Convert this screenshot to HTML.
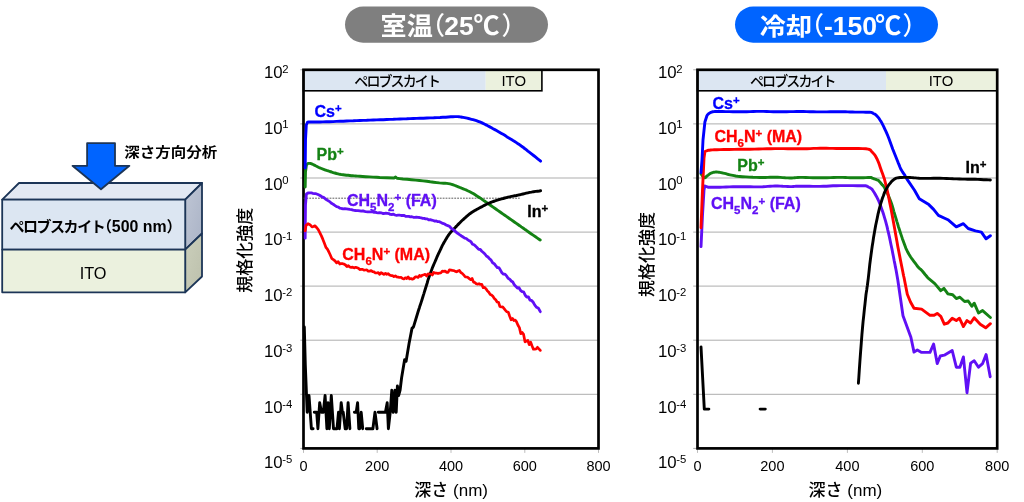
<!DOCTYPE html>
<html lang="ja"><head><meta charset="utf-8"><title>TOF-SIMS depth profile</title>
<style>html,body{margin:0;padding:0;background:#fff;}body{width:1024px;height:502px;overflow:hidden;position:relative;font-family:"Liberation Sans","Noto Sans CJK JP",sans-serif;}</style></head>
<body>
<svg width="1024" height="502" viewBox="0 0 1024 502" font-family="'Liberation Sans','Noto Sans CJK JP',sans-serif" style="position:absolute;left:0;top:0">
<rect width="1024" height="502" fill="#fff"/>
<rect x="345" y="6.5" width="203" height="36.2" rx="18.1" fill="#7f7f7f"/>
<rect x="735" y="6.5" width="203" height="36.2" rx="18.1" fill="#0064ff"/>
<text transform="translate(380.6,35) scale(1.045,1)" fill="#fff" font-weight="bold" font-size="25">室温</text>
<text x="420" y="35" fill="#fff" font-weight="500" font-size="25">（</text>
<text x="444.3" y="35.1" fill="#fff" font-weight="bold" font-size="26.5">25</text>
<text x="473.5" y="35" fill="#fff" font-weight="bold" font-size="26">℃</text>
<text x="501.5" y="35" fill="#fff" font-weight="500" font-size="25">）</text>
<text transform="translate(759.8,34.6) scale(1.045,0.94)" fill="#fff" font-weight="bold" font-size="25">冷却</text>
<text x="799" y="35" fill="#fff" font-weight="500" font-size="25">（</text>
<text x="824" y="35.1" fill="#fff" font-weight="bold" font-size="26.5">-150</text>
<text x="875.3" y="35" fill="#fff" font-weight="bold" font-size="26">℃</text>
<text x="902.5" y="35" fill="#fff" font-weight="500" font-size="25">）</text>
<g stroke="#1c3557" stroke-width="1.8" stroke-linejoin="round">
<defs><linearGradient id="g1" x1="0" y1="0" x2="1" y2="1"><stop offset="0" stop-color="#bfc6d5"/><stop offset="1" stop-color="#aab3c6"/></linearGradient><linearGradient id="g2" x1="0" y1="0" x2="1" y2="1"><stop offset="0" stop-color="#cbcfbb"/><stop offset="1" stop-color="#bcc0ac"/></linearGradient></defs>
<polygon points="2.2,199.6 19,183 202,183 185.2,199.6" fill="#e3e9f3"/>
<polygon points="185.2,199.6 202,183 202,233.5 185.2,249.6" fill="url(#g1)"/>
<polygon points="185.2,249.6 202,233.5 202,276.5 185.2,292.3" fill="url(#g2)"/>
<rect x="2.2" y="199.6" width="183" height="50" fill="#dce6f2"/>
<rect x="2.2" y="249.6" width="183" height="42.7" fill="#ebf1de"/>
<polygon points="87.1,143.2 115,143.2 115,165.8 129.4,165.8 101,189.2 72.5,165.8 87.1,165.8" fill="#0064ff"/>
</g>
<text transform="translate(124.2,156.8) scale(1,0.9)" font-size="15.5" font-weight="bold" fill="#000">深さ方向分析</text>
<text x="9.4" y="232" font-size="15" font-weight="bold" fill="#000" letter-spacing="-1.45">ペロブスカイト</text>
<text x="97" y="232" font-size="15" font-weight="bold" fill="#000">（</text>
<text x="111.8" y="232" font-size="15.9" font-weight="bold" fill="#000">500 nm</text>
<text x="166.5" y="232" font-size="15" font-weight="bold" fill="#000">）</text>
<text x="93.05" y="278.9" font-size="16.3" text-anchor="middle" fill="#000">ITO</text>
<line x1="300.3" y1="69.8" x2="598.5" y2="69.8" stroke="#adadad" stroke-width="1"/><line x1="300.3" y1="123.9" x2="598.5" y2="123.9" stroke="#adadad" stroke-width="1"/><line x1="300.3" y1="178.0" x2="598.5" y2="178.0" stroke="#adadad" stroke-width="1"/><line x1="300.3" y1="232.1" x2="598.5" y2="232.1" stroke="#adadad" stroke-width="1"/><line x1="300.3" y1="286.1" x2="598.5" y2="286.1" stroke="#adadad" stroke-width="1"/><line x1="300.3" y1="340.2" x2="598.5" y2="340.2" stroke="#adadad" stroke-width="1"/><line x1="300.3" y1="394.3" x2="598.5" y2="394.3" stroke="#adadad" stroke-width="1"/><line x1="300.3" y1="448.4" x2="598.5" y2="448.4" stroke="#adadad" stroke-width="1"/><line x1="303.5" y1="448.4" x2="303.5" y2="452.9" stroke="#bdbdbd" stroke-width="1"/><line x1="377.2" y1="448.4" x2="377.2" y2="452.9" stroke="#bdbdbd" stroke-width="1"/><line x1="451.0" y1="448.4" x2="451.0" y2="452.9" stroke="#bdbdbd" stroke-width="1"/><line x1="524.8" y1="448.4" x2="524.8" y2="452.9" stroke="#bdbdbd" stroke-width="1"/><line x1="598.5" y1="448.4" x2="598.5" y2="452.9" stroke="#bdbdbd" stroke-width="1"/><rect x="303.5" y="70" width="182.2" height="20.8" fill="#dce6f2"/><rect x="485.7" y="70" width="56.2" height="20.8" fill="#ebf1de"/><rect x="303.5" y="70" width="238.4" height="20.8" fill="none" stroke="#000" stroke-width="1.6"/><text x="354.3" y="86.4" font-size="14" font-weight="500" fill="#000" letter-spacing="-1.9">ペロブスカイト</text><text x="513.7" y="85.9" font-size="14.9" fill="#000" text-anchor="middle">ITO</text>
<rect x="303.5" y="69.8" width="295.0" height="378.6" fill="none" stroke="#000" stroke-width="2.7"/>
<line x1="303.5" y1="198.2" x2="519.7" y2="198.2" stroke="#4a4a4a" stroke-width="0.9" stroke-dasharray="1.8,1.1"/>
<polyline points="305.2,187.0 305.5,172.0 306.4,165.0 308.0,163.5 308.5,163.4 309.0,163.4 309.6,163.4 310.3,163.5 311.1,163.7 312.0,164.0 313.1,164.5 314.3,165.1 315.6,165.8 317.0,166.5 318.4,167.2 319.9,167.9 321.4,168.5 323.1,169.2 324.8,169.8 326.5,170.4 328.2,170.9 329.9,171.5 331.6,172.0 333.2,172.6 334.8,173.0 336.5,173.5 338.1,173.9 339.8,174.3 341.5,174.6 343.1,174.8 344.8,175.0 346.5,175.2 348.1,175.3 349.8,175.5 351.4,175.7 352.8,175.8 354.2,175.9 355.7,176.0 357.6,176.1 359.8,176.3 362.6,176.5 365.9,176.7 369.5,176.9 373.1,177.1 376.6,177.3 379.7,177.5 394.0,178.0 395.6,177.0 397.0,178.3 399.6,178.6 403.0,179.0 407.1,179.3 411.4,179.7 415.7,180.1 419.5,180.5 423.1,180.9 426.7,181.3 430.2,181.8 433.6,182.2 436.7,182.6 439.4,182.9 441.7,183.1 443.6,183.2 445.3,183.3 446.9,183.4 448.4,183.6 450.0,183.9 451.7,184.3 453.3,184.9 455.0,185.5 456.6,186.2 458.3,186.8 459.9,187.5 461.6,188.2 463.2,188.8 464.9,189.5 466.6,190.2 468.2,191.0 469.9,191.8 471.6,192.7 473.2,193.6 474.8,194.6 476.5,195.7 478.1,196.7 479.8,197.8 481.5,198.9 483.1,200.1 484.8,201.2 486.5,202.4 488.1,203.6 489.8,204.8 491.5,206.0 493.1,207.1 494.8,208.3 496.5,209.5 498.1,210.6 499.8,211.8 501.5,213.0 503.1,214.1 504.8,215.3 506.4,216.4 508.0,217.5 509.7,218.7 511.4,219.9 513.0,221.0 514.7,222.2 516.4,223.4 518.0,224.5 519.7,225.7 521.3,226.9 523.0,228.0 524.6,229.2 526.3,230.3 527.9,231.5 529.6,232.7 531.4,234.0 533.5,235.4 535.5,236.8 537.4,238.1 539.0,239.2 540.2,240.0" fill="none" stroke="#148214" stroke-width="2.9" stroke-linejoin="round" stroke-linecap="round"/>
<polyline points="304.3,327.0 305.3,365.0 307.2,412.3 309.0,395.5 311.4,428.7 313.1,428.7" fill="none" stroke="#000" stroke-width="2.9" stroke-linejoin="round" stroke-linecap="round"/>
<polyline points="314.3,412.3 316.7,412.3 317.9,428.7 319.7,402.7 321.5,412.3 323.3,412.3 325.1,395.5 326.9,428.7 328.1,402.7 329.3,428.7 331.3,395.5 333.5,428.7 337.0,428.7 338.5,412.3 339.4,428.7 341.2,402.7 342.4,412.3 343.2,412.3 345.2,428.7 346.6,428.7 348.1,402.7 349.9,428.7" fill="none" stroke="#000" stroke-width="2.9" stroke-linejoin="round" stroke-linecap="round"/>
<polyline points="354.4,412.3 356.2,412.3 357.6,402.7 358.8,428.7 359.7,428.7 361.2,412.3 362.7,428.7" fill="none" stroke="#000" stroke-width="2.9" stroke-linejoin="round" stroke-linecap="round"/>
<polyline points="366.3,428.7 372.9,428.7 375.0,412.3 377.1,428.7" fill="none" stroke="#000" stroke-width="2.9" stroke-linejoin="round" stroke-linecap="round"/>
<polyline points="378.3,412.3 385.4,412.3 387.2,402.7 388.4,428.7 390.2,412.3 391.8,390.2 393.2,412.3 395.0,390.2 396.2,412.3 397.4,386.0 398.6,395.5 400.1,390.0 401.6,377.7 404.6,359.8 406.1,361.2 409.1,343.3 412.0,328.4 413.5,326.9 418.0,312.0 418.7,309.8 419.4,307.7 420.0,305.7 420.7,303.7 421.3,301.9 421.9,300.0 422.4,298.3 422.9,296.7 423.4,295.1 423.9,293.6 424.4,291.9 425.0,290.0 425.7,287.8 426.4,285.5 427.2,283.0 427.9,280.4 428.7,278.0 429.5,275.7 430.2,273.6 431.0,271.6 431.7,269.7 432.4,267.8 433.2,265.9 434.0,264.0 434.9,262.0 435.8,259.9 436.7,257.7 437.6,255.7 438.5,253.7 439.4,251.8 440.2,250.1 441.0,248.5 441.7,246.9 442.4,245.4 443.2,244.0 444.0,242.5 444.9,241.0 445.8,239.4 446.7,237.9 447.6,236.5 448.5,235.1 449.4,233.9 450.2,232.9 450.9,232.0 451.6,231.3 452.3,230.6 453.1,229.9 453.9,229.0 454.8,228.1 455.6,227.1 456.6,226.1 457.5,225.1 458.7,223.9 459.9,222.7 461.3,221.3 462.9,219.8 464.7,218.2 466.4,216.6 468.2,215.1 469.9,213.7 471.6,212.5 473.2,211.5 474.8,210.5 476.5,209.6 478.1,208.7 479.8,207.8 481.5,206.9 483.1,206.0 484.8,205.1 486.5,204.3 488.1,203.5 489.8,202.8 491.5,202.1 493.1,201.5 494.8,201.0 496.5,200.4 498.1,199.9 499.8,199.4 501.5,198.9 503.1,198.5 504.8,198.0 506.4,197.6 508.0,197.2 509.7,196.8 511.4,196.4 513.0,196.1 514.7,195.8 516.4,195.5 518.0,195.1 519.7,194.8 521.3,194.4 523.0,194.0 524.6,193.6 526.2,193.2 527.9,192.8 529.6,192.4 531.5,192.1 533.6,191.7 535.7,191.4 537.7,191.2 539.4,191.0 540.6,190.8" fill="none" stroke="#000" stroke-width="2.9" stroke-linejoin="round" stroke-linecap="round"/>
<polyline points="305.2,238.2 305.5,205.2 306.4,194.0 308.0,193.0 309.6,192.8 311.2,192.8 312.8,193.4 314.4,193.7 316.0,193.7 318.0,194.5 320.0,195.5 321.9,196.7 323.9,197.6 325.5,199.0 327.1,200.1 328.7,201.0 330.3,202.2 331.9,203.6 333.5,204.4 335.1,205.6 336.6,206.6 338.2,207.0 339.8,208.1 341.5,208.5 343.1,208.8 344.8,208.6 346.5,208.8 348.1,209.1 349.8,209.4 351.5,209.6 353.1,210.1 354.8,210.5 356.5,210.7 358.1,210.6 359.8,210.9 361.3,211.2 362.9,210.8 364.4,211.4 365.9,211.7 367.5,211.8 369.0,211.9 370.5,211.8 372.0,211.7 373.6,212.3 375.1,212.1 376.6,212.6 378.2,212.9 379.7,212.6 381.2,212.8 382.8,213.5 384.3,213.5 385.8,213.2 387.4,213.4 388.9,213.6 390.4,214.4 391.9,214.5 393.5,214.2 395.0,215.0 396.5,215.3 398.1,215.2 399.6,215.2 401.1,215.5 402.7,215.4 404.2,215.5 405.7,216.4 407.3,216.3 408.8,216.4 410.3,216.9 411.8,216.7 413.4,217.3 414.9,217.4 416.4,217.1 418.0,217.3 419.5,217.5 421.0,217.8 422.6,218.4 424.1,218.4 425.6,218.9 427.2,218.9 428.7,219.9 430.2,219.7 431.7,220.1 433.3,220.5 434.8,221.1 436.3,221.0 437.9,221.7 439.4,221.7 441.1,222.6 442.7,223.4 444.4,223.8 446.1,225.0 447.7,225.6 449.4,226.3 451.4,228.5 453.3,229.6 455.3,231.4 456.8,232.8 458.4,233.8 459.9,234.9 461.5,236.0 463.1,237.0 464.7,238.1 466.3,238.5 467.9,239.8 469.4,240.8 471.0,241.7 472.5,244.2 474.1,244.8 475.6,246.1 477.2,247.8 478.7,249.4 480.3,249.5 481.8,251.2 483.3,252.5 484.9,254.0 486.4,256.0 488.0,257.0 489.5,258.7 491.1,260.1 492.6,262.8 494.2,263.7 495.7,265.7 497.3,267.6 498.8,267.6 500.4,270.1 501.9,272.7 503.5,274.2 505.0,274.2 506.6,275.9 508.1,278.3 509.7,279.2 511.2,281.0 512.8,282.0 514.3,284.8 515.9,286.4 517.4,288.1 519.0,287.7 520.5,290.4 522.1,291.7 523.6,291.8 525.2,295.2 526.8,297.0 528.4,296.8 530.0,300.2 531.6,300.5 533.2,302.3 534.8,305.1 536.6,307.3 538.5,308.3 540.3,311.7" fill="none" stroke="#6010f5" stroke-width="2.8" stroke-linejoin="round" stroke-linecap="round"/>
<polyline points="305.2,230.8 306.0,225.6 308.0,223.7 310.0,224.7 312.0,226.9 313.4,226.4 314.9,225.8 317.0,228.0 318.4,229.9 319.9,232.8 321.4,235.9 322.9,239.4 324.4,243.3 325.9,247.3 327.4,249.2 328.9,252.0 330.4,255.3 331.9,258.7 333.4,259.6 335.0,260.8 336.6,262.8 338.2,261.7 339.8,264.1 341.2,263.5 342.7,263.7 344.1,264.1 345.5,265.0 346.9,266.5 348.4,265.7 349.8,267.0 351.2,267.4 352.7,267.2 354.1,267.9 355.5,267.3 356.9,267.6 358.4,268.3 359.8,269.6 361.2,269.3 362.6,269.3 364.0,270.1 365.5,270.0 366.9,269.9 368.3,271.2 369.7,271.2 371.1,270.6 372.6,271.7 374.0,271.9 375.4,273.0 376.8,273.0 378.3,272.5 379.7,274.3 381.1,272.7 382.5,273.5 383.9,274.4 385.4,273.4 386.8,274.3 388.2,273.6 389.6,275.0 391.0,275.6 392.5,275.6 393.9,276.6 395.3,275.8 396.7,276.9 398.2,277.1 399.6,277.5 401.0,277.3 402.5,278.5 403.9,279.0 405.3,277.8 406.7,278.5 408.2,276.9 409.6,278.9 411.0,278.5 412.4,279.2 413.8,278.5 415.3,276.8 416.7,276.8 418.1,277.4 419.5,275.4 420.9,276.3 422.4,275.2 423.8,274.8 425.2,274.3 426.6,276.0 428.1,273.9 429.5,274.0 430.9,274.0 432.3,275.0 433.7,272.5 435.2,273.1 436.6,273.1 438.0,273.6 439.4,273.1 440.8,273.0 442.3,271.2 443.7,271.4 445.1,271.0 446.5,272.3 448.0,272.3 449.4,269.8 450.9,270.1 452.4,270.4 453.9,270.6 455.3,271.4 456.6,271.8 458.0,271.0 459.4,270.4 460.8,272.5 462.2,273.3 463.6,274.8 465.1,276.8 466.5,277.0 467.9,277.4 469.3,278.6 470.7,279.7 472.1,278.4 473.5,282.1 474.9,282.5 476.2,283.7 477.6,284.2 479.0,283.7 480.4,284.5 481.8,284.4 483.2,287.7 484.6,287.3 486.0,288.8 487.4,290.9 488.8,292.3 490.1,294.4 491.5,295.0 492.9,296.3 494.3,298.4 495.7,299.7 497.1,302.0 498.5,302.3 499.9,306.5 501.3,307.0 502.7,306.9 504.1,308.6 505.5,310.3 506.9,311.8 508.3,312.3 509.7,316.2 511.1,319.8 512.5,318.5 513.9,320.5 515.2,320.0 516.6,321.9 518.0,325.3 519.4,327.6 520.8,333.7 522.2,332.5 523.6,334.4 525.0,341.8 526.4,341.0 527.8,340.4 529.2,344.6 530.6,342.1 532.0,345.8 533.4,349.2 534.8,349.2 536.2,349.0 537.5,347.3 538.9,348.8 540.3,350.4" fill="none" stroke="#ff0000" stroke-width="2.7" stroke-linejoin="round" stroke-linecap="round"/>
<polyline points="305.2,168.0 305.5,140.0 306.3,125.0 307.5,122.2 308.8,122.0 310.6,122.0 312.6,122.0 314.9,122.0 317.4,122.0 320.0,122.0 322.9,121.9 326.1,121.8 329.5,121.7 333.1,121.6 336.6,121.4 340.0,121.3 343.3,121.2 346.7,121.0 350.0,120.9 353.3,120.8 356.7,120.6 360.0,120.5 363.3,120.4 366.7,120.3 370.0,120.1 373.3,120.0 376.7,119.9 380.0,119.8 383.3,119.7 386.7,119.5 390.0,119.4 393.3,119.3 396.7,119.1 400.0,119.0 403.3,118.9 406.7,118.8 410.0,118.6 413.3,118.5 416.7,118.4 420.0,118.3 423.4,118.2 426.9,118.0 430.3,117.9 433.7,117.8 437.0,117.6 440.0,117.5 442.9,117.3 445.7,117.2 448.3,117.0 450.8,116.8 453.0,116.7 455.0,116.6 456.6,116.6 457.9,116.6 458.9,116.7 459.9,116.9 460.9,117.0 462.0,117.2 463.2,117.4 464.5,117.6 465.8,117.9 467.1,118.2 468.5,118.5 469.9,118.9 471.4,119.3 473.0,119.7 474.7,120.2 476.4,120.7 478.1,121.3 479.8,121.9 481.5,122.6 483.1,123.4 484.8,124.2 486.5,125.1 488.1,126.0 489.8,126.9 491.5,127.8 493.1,128.7 494.8,129.6 496.5,130.5 498.1,131.4 499.8,132.4 501.5,133.4 503.1,134.3 504.8,135.3 506.4,136.4 508.0,137.4 509.7,138.4 511.4,139.4 513.0,140.5 514.7,141.5 516.4,142.6 518.0,143.7 519.7,144.8 521.3,146.0 523.0,147.2 524.6,148.5 526.2,149.7 527.9,151.1 529.6,152.4 531.5,153.9 533.6,155.5 535.7,157.2 537.7,158.8 539.4,160.1 540.6,161.1" fill="none" stroke="#0000ff" stroke-width="2.9" stroke-linejoin="round" stroke-linecap="round"/>
<text x="264.0" y="78" font-size="16.8" fill="#000">10<tspan dy="-5.3" dx="-0.5" font-size="11.3">2</tspan></text><text x="264.0" y="133.7" font-size="16.8" fill="#000">10<tspan dy="-5.3" dx="-0.5" font-size="11.3">1</tspan></text><text x="264.0" y="189.7" font-size="16.8" fill="#000">10<tspan dy="-5.3" dx="-0.5" font-size="11.3">0</tspan></text><text x="264.0" y="245.4" font-size="16.8" fill="#000">10<tspan dy="-5.3" dx="-0.5" font-size="11.3">-1</tspan></text><text x="264.0" y="301.4" font-size="16.8" fill="#000">10<tspan dy="-5.3" dx="-0.5" font-size="11.3">-2</tspan></text><text x="264.0" y="356.9" font-size="16.8" fill="#000">10<tspan dy="-5.3" dx="-0.5" font-size="11.3">-3</tspan></text><text x="264.0" y="412.9" font-size="16.8" fill="#000">10<tspan dy="-5.3" dx="-0.5" font-size="11.3">-4</tspan></text><text x="264.0" y="467.8" font-size="16.8" fill="#000">10<tspan dy="-5.3" dx="-0.5" font-size="11.3">-5</tspan></text>
<text x="303.5" y="470.8" font-size="14.5" fill="#000" text-anchor="middle">0</text><text x="377.2" y="470.8" font-size="14.5" fill="#000" text-anchor="middle">200</text><text x="451.0" y="470.8" font-size="14.5" fill="#000" text-anchor="middle">400</text><text x="524.8" y="470.8" font-size="14.5" fill="#000" text-anchor="middle">600</text><text x="598.5" y="470.8" font-size="14.5" fill="#000" text-anchor="middle">800</text>
<text x="451.2" y="495.5" font-size="17" fill="#000" text-anchor="middle"><tspan font-weight="500">深さ</tspan> (nm)</text>
<text transform="translate(250.8,250.3) rotate(-90)" font-size="17" font-weight="500" fill="#000" text-anchor="middle">規格化強度</text>
<text x="314.5" y="116.9" fill="#0000ff" stroke="#0000ff" stroke-width="0.3" font-size="16" font-weight="bold"><tspan>Cs</tspan><tspan dy="-4.9" font-size="11.5">+</tspan></text>
<text x="316.5" y="160.1" fill="#148214" stroke="#148214" stroke-width="0.3" font-size="16" font-weight="bold"><tspan>Pb</tspan><tspan dy="-4.9" font-size="11.5">+</tspan></text>
<text x="347" y="205.9" fill="#6010f5" stroke="#6010f5" stroke-width="0.3" font-size="16" font-weight="bold"><tspan>CH</tspan><tspan dy="4.7" font-size="11.5">5</tspan><tspan dy="-4.7" font-size="16">N</tspan><tspan dy="4.7" font-size="11.5">2</tspan><tspan dy="-9.6" font-size="11.5">+</tspan><tspan dy="4.9" font-size="16"> (FA)</tspan></text>
<text x="342.3" y="259.8" fill="#ff0000" stroke="#ff0000" stroke-width="0.3" font-size="16" font-weight="bold"><tspan>CH</tspan><tspan dy="4.7" font-size="11.5">6</tspan><tspan dy="-4.7" font-size="16">N</tspan><tspan dy="-4.9" font-size="11.5">+</tspan><tspan dy="4.9" font-size="16"> (MA)</tspan></text>
<text x="527.2" y="216.7" fill="#000" stroke="#000" stroke-width="0.3" font-size="16" font-weight="bold"><tspan>In</tspan><tspan dy="-4.9" font-size="11.5">+</tspan></text>
<line x1="693.2" y1="69.8" x2="997.2" y2="69.8" stroke="#adadad" stroke-width="1"/><line x1="693.2" y1="123.9" x2="997.2" y2="123.9" stroke="#adadad" stroke-width="1"/><line x1="693.2" y1="178.0" x2="997.2" y2="178.0" stroke="#adadad" stroke-width="1"/><line x1="693.2" y1="232.1" x2="997.2" y2="232.1" stroke="#adadad" stroke-width="1"/><line x1="693.2" y1="286.1" x2="997.2" y2="286.1" stroke="#adadad" stroke-width="1"/><line x1="693.2" y1="340.2" x2="997.2" y2="340.2" stroke="#adadad" stroke-width="1"/><line x1="693.2" y1="394.3" x2="997.2" y2="394.3" stroke="#adadad" stroke-width="1"/><line x1="693.2" y1="448.4" x2="997.2" y2="448.4" stroke="#adadad" stroke-width="1"/><line x1="697.5" y1="448.4" x2="697.5" y2="452.9" stroke="#bdbdbd" stroke-width="1"/><line x1="772.4" y1="448.4" x2="772.4" y2="452.9" stroke="#bdbdbd" stroke-width="1"/><line x1="847.4" y1="448.4" x2="847.4" y2="452.9" stroke="#bdbdbd" stroke-width="1"/><line x1="922.3" y1="448.4" x2="922.3" y2="452.9" stroke="#bdbdbd" stroke-width="1"/><line x1="997.2" y1="448.4" x2="997.2" y2="452.9" stroke="#bdbdbd" stroke-width="1"/><rect x="697.5" y="70" width="188.5" height="20.8" fill="#dce6f2"/><rect x="886" y="70" width="111.0" height="20.8" fill="#ebf1de"/><rect x="697.5" y="70" width="299.5" height="20.8" fill="none" stroke="#000" stroke-width="1.6"/><text x="750" y="86.4" font-size="14" font-weight="500" fill="#000" letter-spacing="-1.9">ペロブスカイト</text><text x="941" y="85.9" font-size="14.9" fill="#000" text-anchor="middle">ITO</text>
<rect x="697.5" y="69.8" width="299.7" height="378.6" fill="none" stroke="#000" stroke-width="2.7"/>
<polyline points="701.0,246.6 702.5,215.0 704.0,190.0 704.9,186.0 708.0,187.2 709.4,187.3 711.0,187.3 712.9,187.3 715.1,187.3 717.4,187.2 720.0,187.2 722.9,187.1 726.1,187.0 729.5,186.9 733.0,186.8 736.6,186.7 740.0,186.7 743.4,186.7 746.9,186.8 750.3,186.8 753.7,186.9 757.0,186.9 760.0,186.9 762.8,186.8 765.4,186.6 767.8,186.4 770.2,186.2 772.6,186.1 775.0,186.0 777.6,186.0 780.2,186.1 782.8,186.3 785.4,186.4 787.8,186.5 790.0,186.6 791.8,186.6 793.3,186.5 794.7,186.4 796.1,186.3 797.8,186.2 800.0,186.2 802.8,186.2 805.9,186.3 809.4,186.3 813.0,186.4 816.6,186.4 820.0,186.4 823.3,186.3 826.5,186.2 829.8,186.0 833.0,185.8 836.4,185.7 840.0,185.6 844.0,185.6 848.5,185.6 853.0,185.6 857.4,185.7 861.1,185.7 863.9,185.8 865.6,185.8 866.4,185.9 866.6,185.9 866.5,186.0 866.5,186.1 866.7,186.2 867.2,186.4 867.8,186.6 868.3,186.9 868.8,187.2 869.4,187.5 869.9,187.8 870.4,188.1 870.7,188.3 871.1,188.5 871.5,188.8 872.1,189.4 872.7,190.3 873.5,191.5 874.5,193.0 875.5,194.8 876.6,196.7 877.7,198.8 878.7,201.0 879.7,203.4 880.7,206.1 881.7,208.9 882.7,211.8 883.7,214.8 884.6,217.8 885.5,220.8 886.3,223.8 887.1,226.9 887.8,230.1 888.6,233.4 889.4,236.9 890.2,240.7 891.0,244.7 891.9,248.8 892.7,253.0 893.5,257.0 894.2,260.8 894.9,264.1 895.4,266.9 896.0,269.7 896.5,272.5 897.1,275.9 897.8,280.0 903.0,315.8 910.9,337.3 914.0,352.1 917.3,350.0 921.6,352.4 930.0,352.4 933.6,344.0 937.2,363.6 940.3,356.0 944.3,355.2 952.2,350.5 956.3,367.2 959.9,367.2 963.4,356.9 967.0,392.7 970.6,363.1 974.2,360.7 978.5,367.2 982.6,363.6 986.1,354.5 990.2,376.7" fill="none" stroke="#6010f5" stroke-width="2.9" stroke-linejoin="round" stroke-linecap="round"/>
<polyline points="701.0,173.9 703.0,176.5 703.3,176.8 703.6,177.1 703.9,177.4 704.3,177.6 704.6,177.8 704.9,177.8 705.2,177.7 705.5,177.5 705.8,177.2 706.2,176.8 706.5,176.4 707.0,176.0 707.5,175.6 708.2,175.1 708.8,174.6 709.5,174.1 710.3,173.6 711.0,173.2 711.8,172.9 712.5,172.6 713.3,172.4 714.1,172.2 715.0,172.1 715.9,172.0 716.8,172.0 717.8,172.1 718.8,172.2 719.8,172.4 720.9,172.6 722.0,172.8 723.2,173.1 724.5,173.4 725.8,173.7 727.1,174.1 728.5,174.5 730.0,174.8 731.4,175.1 732.8,175.4 734.2,175.7 735.7,176.0 737.6,176.3 739.8,176.5 742.6,176.7 745.9,176.9 749.4,177.1 753.0,177.3 756.5,177.4 759.7,177.5 762.5,177.5 765.2,177.5 767.7,177.4 770.1,177.3 772.5,177.2 775.0,177.2 777.6,177.3 780.2,177.4 782.8,177.6 785.4,177.8 787.8,177.9 790.0,178.0 791.8,178.0 793.3,177.9 794.7,177.7 796.1,177.6 797.8,177.5 800.0,177.4 802.8,177.4 805.9,177.5 809.4,177.6 813.0,177.7 816.6,177.8 820.0,177.8 823.4,177.8 826.9,177.7 830.3,177.6 833.7,177.5 837.0,177.4 840.0,177.4 842.8,177.4 845.4,177.5 847.8,177.6 850.2,177.7 852.6,177.8 855.0,177.8 857.6,177.8 860.5,177.7 863.3,177.7 865.9,177.6 868.2,177.5 869.9,177.5 870.9,177.5 871.3,177.5 871.3,177.6 871.2,177.6 871.2,177.7 871.5,177.9 872.2,178.1 873.2,178.5 874.2,178.8 875.2,179.2 876.2,179.5 876.9,179.8 877.4,180.0 877.7,180.1 877.9,180.1 878.1,180.2 878.4,180.4 878.7,180.7 879.1,181.1 879.6,181.7 880.2,182.3 880.7,183.0 881.3,183.7 881.8,184.3 882.2,184.8 882.6,185.1 883.0,185.5 883.4,186.0 884.0,186.8 884.6,187.9 885.4,189.5 886.4,191.5 887.5,193.7 888.6,196.1 889.6,198.6 890.6,201.0 891.5,203.5 892.3,206.0 893.1,208.7 893.8,211.3 894.6,214.0 895.4,216.6 896.2,219.1 896.9,221.6 897.7,224.1 898.4,226.7 899.3,229.3 900.2,232.1 901.2,235.1 902.3,238.4 903.5,241.7 904.7,245.1 905.9,248.3 907.3,251.2 908.8,254.0 910.5,256.7 912.2,259.2 914.0,261.6 915.6,263.7 916.9,265.5 917.9,266.8 918.7,267.7 919.4,268.3 920.0,268.8 920.7,269.4 921.6,270.3 922.7,271.5 923.9,273.0 925.1,274.5 926.4,276.0 927.6,277.5 928.8,278.7 934.8,283.6 940.8,290.7 943.9,288.4 947.9,293.9 952.7,294.8 956.3,298.6 959.9,297.2 964.6,301.5 968.2,301.0 971.8,306.3 974.2,303.2 978.5,313.0 982.6,310.6 990.4,317.5" fill="none" stroke="#148214" stroke-width="2.9" stroke-linejoin="round" stroke-linecap="round"/>
<polyline points="701.0,227.7 702.5,190.0 704.0,158.0 704.9,151.5 708.0,150.3 709.3,150.2 710.7,150.0 712.3,149.9 714.3,149.8 716.9,149.7 720.0,149.6 724.0,149.5 728.9,149.5 734.2,149.4 739.7,149.3 745.1,149.3 750.0,149.2 754.5,149.1 758.7,149.0 762.8,148.9 766.9,148.7 770.9,148.7 775.0,148.6 779.2,148.6 783.5,148.6 787.8,148.7 792.0,148.8 796.1,148.8 800.0,148.8 803.6,148.7 807.0,148.7 810.3,148.6 813.5,148.4 816.7,148.4 820.0,148.3 823.3,148.3 826.4,148.3 829.6,148.4 832.9,148.4 836.3,148.5 840.0,148.5 844.2,148.5 848.9,148.5 853.8,148.5 858.5,148.5 862.7,148.6 865.9,148.8 868.1,149.1 869.4,149.5 870.2,149.9 870.7,150.4 871.2,151.0 871.9,151.8 872.8,152.7 873.6,153.6 874.5,154.6 875.3,155.8 876.1,157.2 876.9,158.7 877.7,160.5 878.6,162.6 879.4,164.8 880.2,167.2 881.0,169.5 881.8,171.7 882.5,173.6 883.1,175.3 883.7,177.0 884.4,178.9 885.0,181.3 885.8,184.3 886.7,188.1 887.7,192.5 888.7,197.3 889.7,202.5 890.8,207.8 891.8,213.0 892.8,218.4 893.8,224.1 894.9,230.0 895.9,235.8 896.9,241.3 897.8,246.4 898.7,251.1 899.6,255.6 900.4,259.8 901.2,263.7 901.9,267.2 902.5,270.3 903.0,272.7 903.3,274.4 903.6,275.8 903.9,277.0 904.2,278.3 904.5,280.0 907.3,294.3 910.5,302.0 914.0,308.2 921.6,309.1 930.0,315.3 934.1,315.3 937.2,313.4 940.8,316.3 944.3,324.2 947.9,323.0 952.2,318.2 956.3,320.6 959.4,318.2 963.4,326.6 967.0,320.6 970.6,323.0 974.2,317.7 980.2,324.2 985.7,327.8 990.4,323.7" fill="none" stroke="#ff0000" stroke-width="2.9" stroke-linejoin="round" stroke-linecap="round"/>
<polyline points="701.0,172.7 702.0,160.0 703.0,140.0 704.9,122.0 707.0,115.5 707.6,114.7 708.3,114.0 709.1,113.4 709.9,112.8 710.9,112.4 711.9,112.0 712.9,111.7 713.9,111.6 715.0,111.5 716.3,111.5 717.9,111.5 720.0,111.5 722.6,111.5 725.8,111.6 729.3,111.6 732.9,111.7 736.5,111.8 740.0,111.8 743.3,111.8 746.7,111.7 750.0,111.6 753.3,111.5 756.7,111.4 760.0,111.4 763.3,111.4 766.7,111.5 770.0,111.6 773.3,111.7 776.7,111.8 780.0,111.8 783.3,111.8 786.7,111.7 790.0,111.6 793.3,111.6 796.7,111.5 800.0,111.5 803.3,111.5 806.7,111.6 810.0,111.7 813.3,111.8 816.7,111.9 820.0,111.9 823.4,111.9 826.9,111.9 830.3,111.8 833.7,111.7 837.0,111.7 840.0,111.7 842.8,111.7 845.4,111.8 847.8,111.9 850.2,112.0 852.6,112.0 855.0,112.1 857.6,112.1 860.4,112.1 863.2,112.1 865.8,112.2 868.1,112.2 869.9,112.3 871.2,112.4 871.9,112.6 872.4,112.8 872.7,113.0 873.0,113.2 873.5,113.5 874.1,113.8 874.6,114.0 875.1,114.3 875.7,114.7 876.2,115.2 876.9,115.9 877.6,116.7 878.4,117.7 879.2,118.7 880.0,120.0 880.9,121.3 881.8,122.9 882.7,124.7 883.7,126.6 884.7,128.8 885.8,131.1 886.8,133.4 887.8,135.8 888.8,138.3 889.8,140.9 890.8,143.7 891.8,146.4 892.8,149.2 893.8,151.8 894.9,154.5 896.0,157.3 897.1,160.0 898.1,162.6 899.1,164.9 899.8,166.7 900.3,167.9 900.6,168.5 900.7,168.9 900.8,169.1 901.0,169.4 901.4,170.0 902.0,171.0 902.7,172.1 903.5,173.4 904.4,174.6 905.1,175.8 905.7,176.7 906.1,177.3 906.2,177.7 906.3,177.9 906.5,178.2 906.7,178.7 907.3,179.6 914.5,190.3 919.3,198.7 928.8,204.6 933.6,209.4 938.4,215.4 947.9,219.7 956.3,226.8 963.4,223.7 968.2,228.5 975.4,230.9 981.4,232.1 986.1,238.8 990.4,235.7" fill="none" stroke="#0000ff" stroke-width="2.9" stroke-linejoin="round" stroke-linecap="round"/>
<polyline points="701.0,346.9 704.3,409.1 708.9,409.1" fill="none" stroke="#000" stroke-width="2.9" stroke-linejoin="round" stroke-linecap="round"/>
<polyline points="760.1,409.1 765.3,409.1" fill="none" stroke="#000" stroke-width="2.9" stroke-linejoin="round" stroke-linecap="round"/>
<polyline points="858.4,383.2 858.8,377.8 859.3,370.2 859.9,361.3 860.6,351.9 861.3,342.8 861.9,334.9 862.5,328.0 863.1,321.3 863.8,315.1 864.4,309.2 865.0,303.8 865.5,299.1 865.9,295.3 866.3,292.4 866.7,290.0 867.0,287.7 867.4,285.2 867.8,282.0 868.3,278.1 868.8,273.7 869.3,269.0 869.8,264.2 870.4,259.5 871.0,255.0 871.6,250.6 872.2,246.3 872.9,242.0 873.5,237.8 874.2,233.7 874.9,229.7 875.6,225.8 876.4,222.0 877.2,218.3 877.9,214.7 878.7,211.3 879.5,208.2 880.3,205.3 881.0,202.7 881.8,200.2 882.5,198.0 883.3,195.9 884.0,193.9 884.7,192.1 885.4,190.6 886.2,189.2 886.9,187.9 887.6,186.7 888.4,185.5 889.2,184.4 890.1,183.3 890.9,182.3 891.8,181.3 892.6,180.5 893.5,179.8 894.3,179.2 894.9,178.8 895.6,178.4 896.4,178.1 897.3,177.9 898.5,177.7 900.0,177.5 901.8,177.5 903.8,177.4 905.9,177.4 908.0,177.4 910.0,177.5 911.8,177.6 913.6,177.8 915.4,177.9 917.2,178.1 919.3,178.3 921.6,178.4 924.3,178.4 927.2,178.4 930.3,178.4 933.5,178.3 936.8,178.3 940.0,178.3 943.2,178.4 946.6,178.5 949.9,178.6 953.3,178.8 956.5,178.9 959.5,179.0 962.3,179.1 965.0,179.1 967.5,179.2 970.0,179.2 972.5,179.2 975.0,179.3 977.8,179.4 980.7,179.5 983.7,179.7 986.4,179.8 988.7,179.9 990.4,180.0" fill="none" stroke="#000" stroke-width="2.9" stroke-linejoin="round" stroke-linecap="round"/>
<text x="658.0" y="78" font-size="16.8" fill="#000">10<tspan dy="-5.3" dx="-0.5" font-size="11.3">2</tspan></text><text x="658.0" y="133.7" font-size="16.8" fill="#000">10<tspan dy="-5.3" dx="-0.5" font-size="11.3">1</tspan></text><text x="658.0" y="189.7" font-size="16.8" fill="#000">10<tspan dy="-5.3" dx="-0.5" font-size="11.3">0</tspan></text><text x="658.0" y="245.4" font-size="16.8" fill="#000">10<tspan dy="-5.3" dx="-0.5" font-size="11.3">-1</tspan></text><text x="658.0" y="301.4" font-size="16.8" fill="#000">10<tspan dy="-5.3" dx="-0.5" font-size="11.3">-2</tspan></text><text x="658.0" y="356.9" font-size="16.8" fill="#000">10<tspan dy="-5.3" dx="-0.5" font-size="11.3">-3</tspan></text><text x="658.0" y="412.9" font-size="16.8" fill="#000">10<tspan dy="-5.3" dx="-0.5" font-size="11.3">-4</tspan></text><text x="658.0" y="467.8" font-size="16.8" fill="#000">10<tspan dy="-5.3" dx="-0.5" font-size="11.3">-5</tspan></text>
<text x="697.5" y="471.2" font-size="14.5" fill="#000" text-anchor="middle">0</text><text x="772.4" y="471.2" font-size="14.5" fill="#000" text-anchor="middle">200</text><text x="847.4" y="471.2" font-size="14.5" fill="#000" text-anchor="middle">400</text><text x="922.3" y="471.2" font-size="14.5" fill="#000" text-anchor="middle">600</text><text x="997.2" y="471.2" font-size="14.5" fill="#000" text-anchor="middle">800</text>
<text x="845.4" y="496" font-size="17" fill="#000" text-anchor="middle"><tspan font-weight="500">深さ</tspan> (nm)</text>
<text transform="translate(652.5,254.5) rotate(-90)" font-size="17" font-weight="500" fill="#000" text-anchor="middle">規格化強度</text>
<text x="712.5" y="109.3" fill="#0000ff" stroke="#0000ff" stroke-width="0.3" font-size="16" font-weight="bold"><tspan>Cs</tspan><tspan dy="-4.9" font-size="11.5">+</tspan></text>
<text x="714.4" y="142.2" fill="#ff0000" stroke="#ff0000" stroke-width="0.3" font-size="16" font-weight="bold"><tspan>CH</tspan><tspan dy="4.7" font-size="11.5">6</tspan><tspan dy="-4.7" font-size="16">N</tspan><tspan dy="-4.9" font-size="11.5">+</tspan><tspan dy="4.9" font-size="16"> (MA)</tspan></text>
<text x="737.3" y="170.7" fill="#148214" stroke="#148214" stroke-width="0.3" font-size="16" font-weight="bold"><tspan>Pb</tspan><tspan dy="-4.9" font-size="11.5">+</tspan></text>
<text x="711" y="209.4" fill="#6010f5" stroke="#6010f5" stroke-width="0.3" font-size="16" font-weight="bold"><tspan>CH</tspan><tspan dy="4.7" font-size="11.5">5</tspan><tspan dy="-4.7" font-size="16">N</tspan><tspan dy="4.7" font-size="11.5">2</tspan><tspan dy="-9.6" font-size="11.5">+</tspan><tspan dy="4.9" font-size="16"> (FA)</tspan></text>
<text x="965.5" y="172.7" fill="#000" stroke="#000" stroke-width="0.3" font-size="16" font-weight="bold"><tspan>In</tspan><tspan dy="-4.9" font-size="11.5">+</tspan></text>
</svg>
</body></html>
